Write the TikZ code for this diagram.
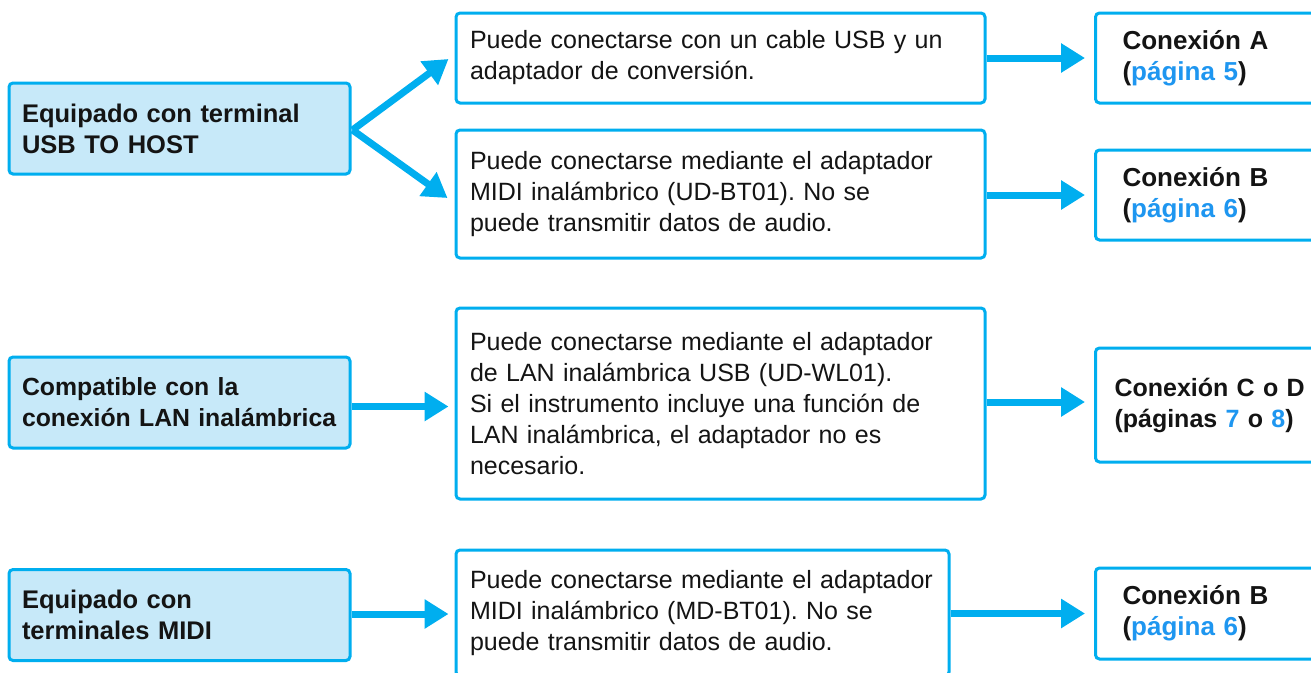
\documentclass[tikz,border=0pt]{standalone}
\usepackage{fontspec}
\setmainfont{Liberation Sans}
\usetikzlibrary{arrows.meta,calc}
\definecolor{cyanline}{RGB}{0,174,239}
\definecolor{lightfill}{RGB}{199,233,249}
\definecolor{pagelink}{RGB}{30,150,240}
\definecolor{txt}{RGB}{20,20,20}
\newcommand{\pg}[1]{\textcolor{pagelink}{#1}}
\frenchspacing
\hbadness=10000 \hfuzz=50pt
\begin{document}
\begin{tikzpicture}[x=1pt,y=-1pt,
  box/.style={draw=cyanline,line width=3pt,rounded corners=4pt,anchor=center,align=left,text=txt},
  srcbox/.style={box,fill=lightfill,inner xsep=13pt,inner ysep=0pt,text width=315pt,minimum height=91pt,
    font=\fontsize{25.5}{31}\selectfont\bfseries},
  midbox/.style={box,fill=white,inner xsep=14pt,inner ysep=0pt,
    font=\fontsize{25}{31}\selectfont},
  resbox/.style={box,fill=white,anchor=west,inner ysep=0pt,text width=220pt,minimum height=90pt,
    font=\fontsize{26}{31}\selectfont\bfseries},
  flow/.style={draw=cyanline,line width=7pt,-{Triangle[length=24pt,width=28pt]}}
]
\useasboundingbox (0,0) rectangle (1311,672);
\clip (0,0) rectangle (1311,672);
% source boxes
\node[srcbox] (l1) at (179.5,128.5) {\mbox{Equipado con terminal}\\USB TO HOST};
\node[srcbox,font=\fontsize{24.8}{31}\selectfont\bfseries] (l2) at (179.5,402.5)
  {Compatible con la\\\mbox{conexión LAN inalámbrica}};
\node[srcbox] (l3) at (179.5,615) {Equipado con\\terminales MIDI};
% middle boxes
\node[midbox,text width=501pt,minimum height=90pt] (mA) at (720.5,58)
  {Puede conectarse con un cable USB y un\\adaptador de conversión.};
\node[midbox,text width=501pt,minimum height=128pt] (mB) at (720.5,194)
  {Puede conectarse mediante el adaptador\\MIDI inalámbrico (UD-BT01). No se\\puede transmitir datos de audio.};
\node[midbox,text width=501pt,minimum height=191pt] (mC) at (720.5,403.5)
  {Puede conectarse mediante el adaptador\\de LAN inalámbrica USB (UD-WL01).\\Si el instrumento incluye una función de\\LAN inalámbrica, el adaptador no es\\necesario.};
\node[midbox,text width=465pt,minimum height=126pt] (mD) at (702.5,613)
  {Puede conectarse mediante el adaptador\\MIDI inalámbrico (MD-BT01). No se\\puede transmitir datos de audio.};
% result boxes
\node[resbox,inner xsep=27pt] (rA) at (1094,58) {Conexión A\\(\pg{página 5})};
\node[resbox,inner xsep=27pt] (rB) at (1094,195) {Conexión B\\(\pg{página 6})};
\node[resbox,inner xsep=19pt,minimum height=114pt,font=\fontsize{25}{31}\selectfont\bfseries] (rC) at (1094,405)
  {\mbox{Conexión C o D}\\(páginas \pg{7} o \pg{8})};
\node[resbox,inner xsep=27pt,minimum height=91pt] (rD) at (1094,613.5) {Conexión B\\(\pg{página 6})};
% connectors
\draw[flow] ($(l1.east)+(1,1.5)$) -- ($(mA.west)+(-6,1)$);
\draw[flow] ($(l1.east)+(1,1.5)$) -- ($(mB.west)+(-7,4)$);
\draw[flow] ($(l2.east)+(0,4)$) -- ($(mC.west)+(-6,3)$);
\draw[flow] ($(l3.east)+(0,-1)$) -- ($(mD.west)+(-6,1)$);
\draw[flow] (mA.east) -- ($(mA.east -| rA.west)+(-9,0)$);
\draw[flow] (mB.east |- rB.west) -- ($(rB.west)+(-9,0)$);
\draw[flow] ($(mC.east)+(0,-1.5)$) -- ($(mC.east -| rC.west)+(-9,-1.5)$);
\draw[flow] (mD.east |- rD.west) -- ($(rD.west)+(-9,0)$);
\end{tikzpicture}
\end{document}
